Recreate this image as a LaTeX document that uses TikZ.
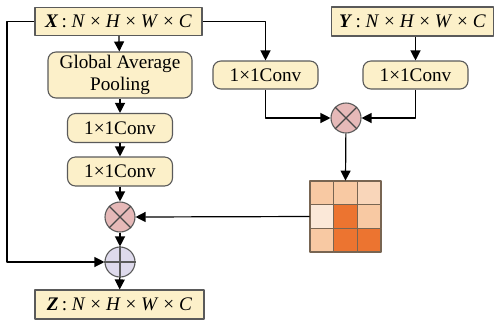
\documentclass[tikz,border=0pt]{standalone}
\usepackage{fontspec}
\setmainfont{Liberation Serif}
\usetikzlibrary{arrows.meta}
\definecolor{boxfill}{HTML}{FCF0C9}
\definecolor{mulfill}{HTML}{E6B9B8}
\definecolor{addfill}{HTML}{DEDAEC}
\definecolor{edgegray}{HTML}{5A5A5A}
\definecolor{wlight}{HTML}{FBE8D8}
\definecolor{wpale}{HTML}{F9D6BA}
\definecolor{wmid}{HTML}{F8C9A3}
\definecolor{wdark}{HTML}{EC7430}

\newcommand{\tensorlabel}[1]{\textbf{\textit{#1}}\,: \textit{N} × \textit{H} × \textit{W} × \textit{C}}

\begin{document}
\begin{tikzpicture}[
  x=0.5pt,
  y=-0.5pt,
  font=\fontsize{9.6}{11}\selectfont,
  line join=round,
  tensor/.style={draw=edgegray,fill=boxfill,line width=0.55pt,inner sep=0pt,minimum height=14pt},
  convbox/.style={draw=edgegray,fill=boxfill,line width=0.55pt,rounded corners=4pt,inner sep=0pt,minimum width=52.5pt,minimum height=14.5pt},
  opnode/.style={circle,draw=edgegray,line width=0.55pt,inner sep=0pt,minimum size=15pt},
  link/.style={draw=black,line width=0.6pt,-{Triangle[length=5pt,width=5pt]}}
]
  \useasboundingbox (0,0) rectangle (497,323);

  % Input and output tensors.
  \node[tensor,minimum width=83.5pt] (X) at (118.5,21.5) {\tensorlabel{X}};
  \node[tensor,minimum width=81pt,minimum height=14.5pt] (Y) at (412.5,21.5) {\tensorlabel{Y}};
  \node[tensor,minimum width=84.5pt,minimum height=14.5pt] (Z) at (119.5,304.5) {\tensorlabel{Z}};

  % Channel branch.
  \node[convbox,minimum width=72pt,minimum height=23pt,align=center] (gap) at (120,75) {Global Average\\Pooling};
  \node[convbox] (convA) at (120,128) {1×1Conv};
  \node[convbox] (convB) at (120,171.5) {1×1Conv};
  \node[opnode,fill=mulfill] (mulL) at (120,217) {};
  \node[opnode,fill=addfill] (add) at (120,262) {};

  % Spatial branch.
  \node[convbox,minimum height=14pt] (convX) at (265.5,75) {1×1Conv};
  \node[convbox,minimum height=14pt] (convY) at (415.5,75) {1×1Conv};
  \node[opnode,fill=mulfill] (mulR) at (346,118) {};
  \node[inner sep=0pt,minimum size=35.5pt] (att) at (345.5,216.5) {};

  % Operator signs.
  \foreach \op in {mulL,mulR} {
    \draw[edgegray!80!black,line width=0.55pt] (\op.north east) -- (\op.south west);
    \draw[edgegray!80!black,line width=0.55pt] (\op.north west) -- (\op.south east);
  }
  \draw[edgegray,line width=0.55pt] (add.north) -- (add.south);
  \draw[edgegray,line width=0.55pt] (add.west) -- (add.east);

  % Attention map cells, top row first.
  \foreach \c [count=\i from 0] in {wmid,wmid,wpale,wlight,wdark,wmid,wmid,wdark,wdark} {
    \pgfmathtruncatemacro{\col}{mod(\i,3)}
    \pgfmathtruncatemacro{\row}{div(\i,3)}
    \draw[fill=\c,draw=edgegray!70!brown,line width=0.55pt]
      (310+23.67*\col,181+23.67*\row) rectangle ++(23.67,23.67);
  }

  % Connectors.
  \draw[link] (X) -- (gap);
  \draw[link] (gap) -- (convA);
  \draw[link] (convA) -- (convB);
  \draw[link] (convB) -- (mulL);
  \draw[link] (mulL) -- (add);
  \draw[link] (add) -- (Z);
  \draw[link] (X.west) -- (7,21.5) |- (add.west);
  \draw[link] (X.east) -| (convX.north);
  \draw[link] (Y.south -| convY) -- (convY.north);
  \draw[link] (convX.south) |- (mulR.west);
  \draw[link] (convY.south) |- (mulR.east);
  \draw[link] (mulR) -- (att.north);
  \draw[link] (att.west) -- (mulL.east);
\end{tikzpicture}
\end{document}
